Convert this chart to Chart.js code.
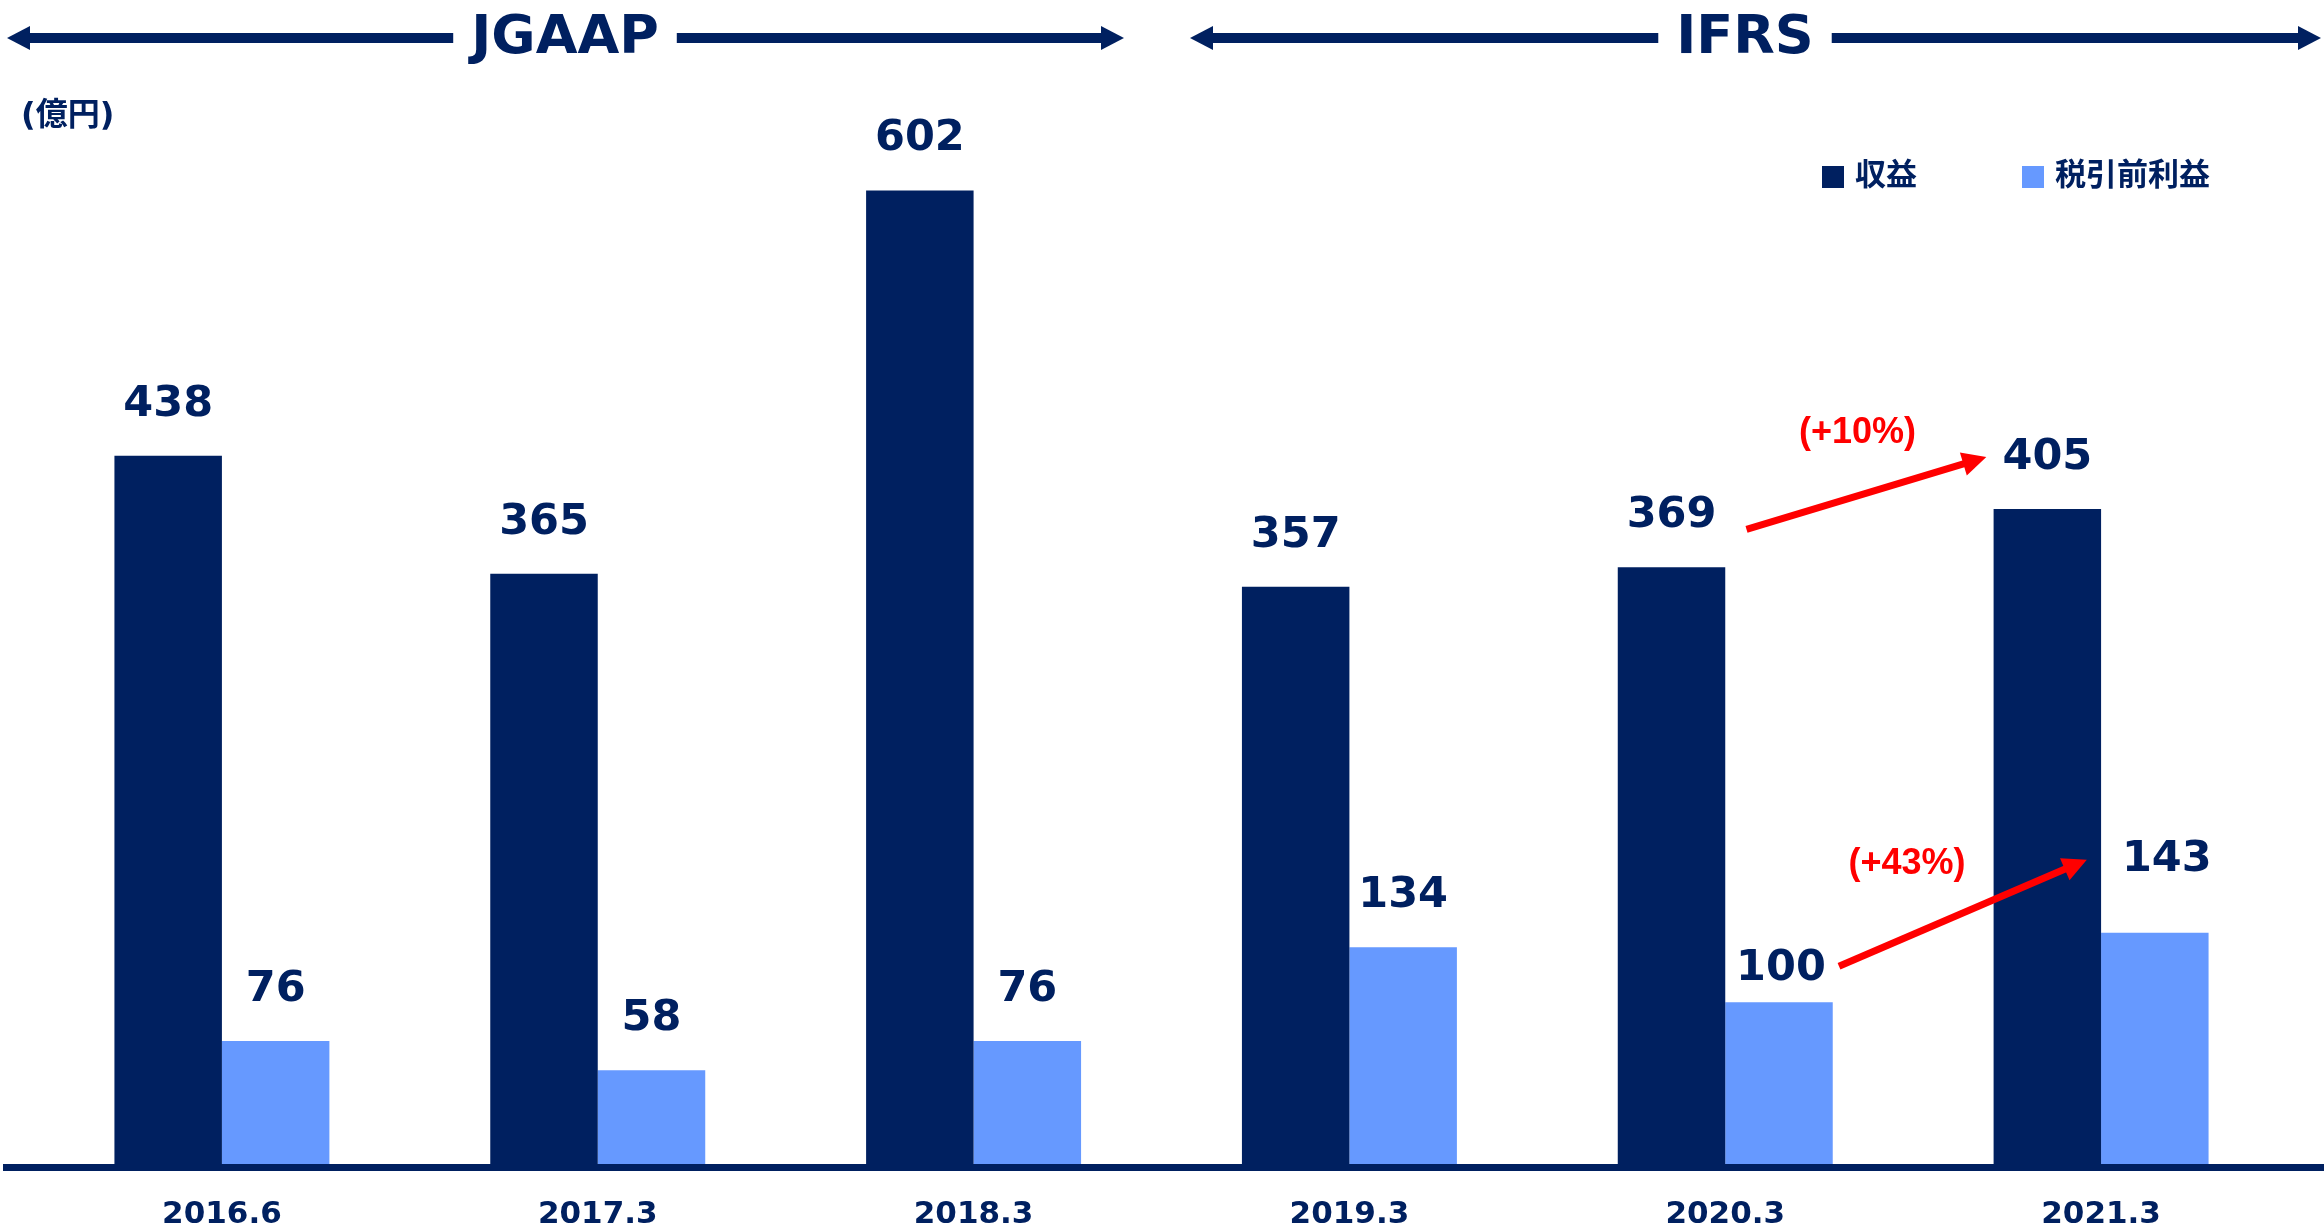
<!DOCTYPE html>
<html>
<head>
<meta charset="utf-8">
<script src="https://cdn.jsdelivr.net/npm/chart.js@4/dist/chart.umd.min.js"></script>
<style>
  html, body { margin: 0; padding: 0; background: #fff; overflow: hidden; }
  #wrap { position: relative; width: 2324px; height: 1227px; }
</style>
</head>
<body>
<div id="wrap"><canvas id="c" width="2324" height="1227"></canvas></div>
<script>
// Fiscal periods and results (億円)
const periods = ['2016.6', '2017.3', '2018.3', '2019.3', '2020.3', '2021.3'];
const revenue = [438, 365, 602, 357, 369, 405];
const pretaxProfit = [76, 58, 76, 134, 100, 143];
const seriesNames = ['収益', '税引前利益'];
const unitLabel = '(億円)';
const standardNames = ['JGAAP', 'IFRS'];

const NAVY = '#002060';
const LIGHT = '#6699FF';
const RED = '#FF0000';
const NUM_FONT = 'bold 43px "DejaVu Sans", Verdana, sans-serif';

// Accounting-standard header arrows: [left tip, right tip, text centre]
const headerLayout = [[7, 1124, 565], [1190, 2321, 1745]];

// Nudges for value labels that make room for the call-out arrows: [dataset, index, dx, dy]
const labelNudges = [[1, 4, 2, 18], [1, 5, 12, -22]];

// Growth call-outs between 2020.3 and 2021.3
const growthNotes = [
  { ds: 0, from: 4, to: 5, start: [75, -38], end: [-61, -52], text: [111, -96] },
  { ds: 1, from: 4, to: 5, start: [60, -36], end: [-68, -73], text: [68, -102] }
];

function arrow(ctx, x0, y0, x1, y1, width, headLen, headW) {
  const a = Math.atan2(y1 - y0, x1 - x0);
  const bx = x1 - Math.cos(a) * headLen, by = y1 - Math.sin(a) * headLen;
  ctx.lineWidth = width;
  ctx.lineCap = 'butt';
  ctx.beginPath(); ctx.moveTo(x0, y0); ctx.lineTo(bx + Math.cos(a), by + Math.sin(a)); ctx.stroke();
  const nx = -Math.sin(a) * headW / 2, ny = Math.cos(a) * headW / 2;
  ctx.beginPath();
  ctx.moveTo(x1, y1); ctx.lineTo(bx + nx, by + ny); ctx.lineTo(bx - nx, by - ny);
  ctx.closePath(); ctx.fill();
}

const decor = {
  id: 'decor',
  afterDraw(chart) {
    const ctx = chart.ctx;
    const W = chart.width;
    const y0 = chart.scales.y.getPixelForValue(0);
    ctx.save();

    // baseline rule across the full width
    ctx.fillStyle = NAVY;
    ctx.fillRect(3, Math.round(y0), W - 3, 7);

    // value labels above each bar
    ctx.font = NUM_FONT;
    ctx.textAlign = 'center';
    ctx.textBaseline = 'alphabetic';
    chart.data.datasets.forEach((ds, di) => {
      chart.getDatasetMeta(di).data.forEach((el, i) => {
        const nudge = labelNudges.find(n => n[0] === di && n[1] === i) || [0, 0, 0, 0];
        ctx.fillText(String(ds.data[i]), el.x + nudge[2], el.y - 40 + nudge[3]);
      });
    });

    // header arrows with standard names
    ctx.font = 'bold 54px "DejaVu Sans", Verdana, sans-serif';
    ctx.fillStyle = NAVY; ctx.strokeStyle = NAVY;
    standardNames.forEach((name, k) => {
      const [l, r, cx] = headerLayout[k];
      const tw = ctx.measureText(name).width;
      const cy = 38;
      ctx.textAlign = 'center';
      ctx.fillText(name, cx, 53);
      arrow(ctx, cx - tw / 2 - 18, cy, l, cy, 10, 23, 24);
      arrow(ctx, cx + tw / 2 + 18, cy, r, cy, 10, 23, 24);
    });

    // unit label
    ctx.font = 'bold 32px "DejaVu Sans", "Noto Sans CJK JP", sans-serif';
    ctx.textAlign = 'left'; ctx.textBaseline = 'middle';
    ctx.fillText(unitLabel, 21, 117);

    // legend
    const legendX = [1822, 2022];
    ctx.font = 'bold 31px "Noto Sans CJK JP", sans-serif';
    chart.data.datasets.forEach((ds, di) => {
      ctx.fillStyle = ds.backgroundColor;
      ctx.fillRect(legendX[di], 166, 22, 22);
      ctx.fillStyle = NAVY;
      ctx.fillText(ds.label, legendX[di] + 33, 173);
    });

    // growth arrows and percentages
    ctx.fillStyle = RED; ctx.strokeStyle = RED;
    ctx.font = 'bold 36px "Liberation Sans", Arial, sans-serif';
    ctx.textAlign = 'center'; ctx.textBaseline = 'middle';
    growthNotes.forEach(n => {
      const meta = chart.getDatasetMeta(n.ds).data;
      const vals = chart.data.datasets[n.ds].data;
      const a = meta[n.from], b = meta[n.to];
      const sx = a.x + n.start[0], sy = a.y + n.start[1];
      arrow(ctx, sx, sy, b.x + n.end[0], b.y + n.end[1], 7, 24, 24);
      const pct = Math.round((vals[n.to] / vals[n.from] - 1) * 100);
      ctx.fillText('(+' + pct + '%)', sx + n.text[0], sy + n.text[1]);
    });

    ctx.restore();
  }
};

new Chart(document.getElementById('c'), {
  type: 'bar',
  data: {
    labels: periods,
    datasets: [
      { label: seriesNames[0], data: revenue, backgroundColor: NAVY, borderWidth: 0,
        barPercentage: 1, categoryPercentage: 0.572 },
      { label: seriesNames[1], data: pretaxProfit, backgroundColor: LIGHT, borderWidth: 0,
        barPercentage: 1, categoryPercentage: 0.572 }
    ]
  },
  options: {
    responsive: false,
    animation: false,
    devicePixelRatio: 1,
    layout: { padding: { top: 32, left: 34, right: 35, bottom: -39 } },
    scales: {
      x: {
        grid: { display: false, drawTicks: false },
        border: { display: false },
        ticks: {
          color: NAVY,
          padding: 35.5,
          font: { family: '"DejaVu Sans", Verdana, sans-serif', weight: 'bold', size: 31, lineHeight: 1 }
        }
      },
      y: { display: false, min: 0, max: 700 }
    },
    plugins: { legend: { display: false }, tooltip: { enabled: false } }
  },
  plugins: [decor]
});
</script>
</body>
</html>
